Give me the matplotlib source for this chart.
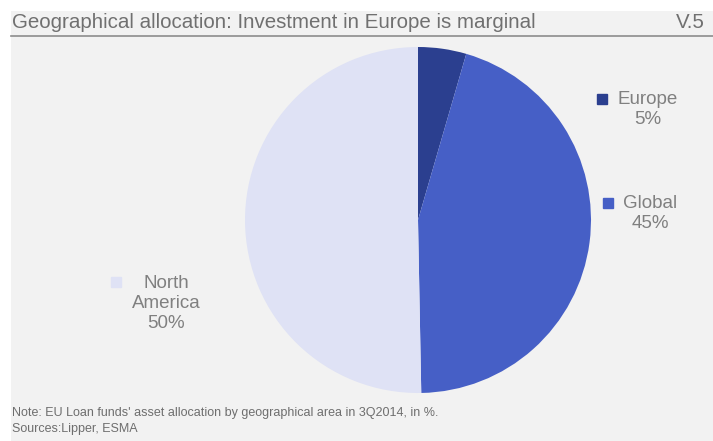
import matplotlib.pyplot as plt
from matplotlib.patches import Rectangle

plt.rcParams['font.family'] = ['Liberation Sans', 'DejaVu Sans']

regions = ['Europe', 'Global', 'North\nAmerica']
shares = [4.5, 45.2, 50.3]
share_labels = ['5%', '45%', '50%']
colors = ['#2b3f8f', '#465fc6', '#dfe2f5']

title = 'Geographical allocation: Investment in Europe is marginal'
chart_no = 'V.5'
note = "Note: EU Loan funds' asset allocation by geographical area in 3Q2014, in %.\nSources:Lipper, ESMA"

W, H = 713, 441
fig = plt.figure(figsize=(W / 100, H / 100), dpi=100)
fig.patch.set_facecolor('white')

# gray panel behind everything
fig.add_artist(Rectangle((11 / W, 0), 1 - 11 / W, (H - 11) / H, transform=fig.transFigure,
                         facecolor='#f2f2f2', edgecolor='none', zorder=0))
fig.add_artist(plt.Line2D([11 / W, 1], [(H - 36) / H] * 2, transform=fig.transFigure,
                          color='#8c8c8c', lw=1.2))

fig.text(12 / W, (H - 23) / H, title, ha='left', va='center', fontsize=14.8,
         color='#707070')
fig.text(705 / W, (H - 23) / H, chart_no, ha='right', va='center', fontsize=14.8,
         color='#707070')
fig.text(12 / W, (H - 421) / H, note, ha='left', va='center', fontsize=9,
         color='#6e6e6e', linespacing=1.55)

# pie: centre (418, 220) px, radius 173 px
r = 173
ax = fig.add_axes([(418 - r) / W, (H - 220 - r) / H, 2 * r / W, 2 * r / H])
ax.pie(shares, colors=colors, startangle=90, counterclock=False,
       wedgeprops=dict(edgecolor='none'))
ax.set_xlim(-1, 1)
ax.set_ylim(-1, 1)
ax.set_aspect('equal')
ax.axis('off')

# labels with colour squares (data units: radius = 1)
label_pos = [(1.064, 0.699, 1.329, 0.636), (1.098, 0.098, 1.341, 0.038),
             (-1.746, -0.358, -1.457, -0.48)]
for (mx, my, tx, ty), name, lab, c in zip(label_pos, regions, share_labels, colors):
    ax.plot([mx], [my], marker='s', ms=7.2, color=c, clip_on=False, ls='none')
    ax.text(tx, ty, name + '\n' + lab, ha='center', va='center', fontsize=13.5,
            color='#808080', linespacing=1.23, clip_on=False)

fig.savefig('out.png', dpi=100, facecolor=fig.get_facecolor())
